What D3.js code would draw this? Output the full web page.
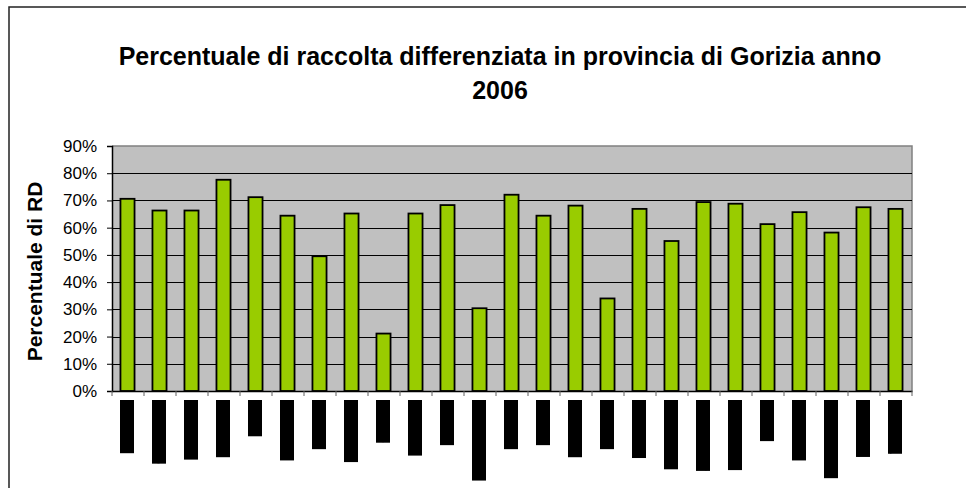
<!DOCTYPE html>
<html><head><meta charset="utf-8">
<script src="https://cdn.jsdelivr.net/npm/d3@7"></script>
<style>html,body{margin:0;padding:0;background:#fff;}svg{display:block;}</style>
</head><body>
<svg id="chart" width="966" height="488"></svg>
<script>
const titleLines = ["Percentuale di raccolta differenziata in provincia di Gorizia anno", "2006"];
const yAxisTitle = "Percentuale di RD";
const categories = ["Capriva","Cormons","Doberdò","Dolegna","Farra","Fogliano","Gorizia","Gradisca","Grado","Mariano","Medea","Monfalcone","Moraro","Mossa","Romans","Ronchi","Sagrado","S.Canzian","S.Floriano","S.Lorenzo","S.Pier","Savogna","Staranzano","Turriaco","Villesse"];
const values = [70.6,66.3,66.3,77.6,71.2,64.4,49.5,65.2,21.1,65.2,68.3,30.4,72.1,64.4,68.1,34.0,66.9,55.1,69.4,68.8,61.3,65.7,58.2,67.5,66.9];
const yTicks = [0,10,20,30,40,50,60,70,80,90];

const svg = d3.select("#chart");
const font = "'Liberation Sans', Arial, sans-serif";
const m = {left:112, right:912, top:146, bottom:391};

// clip for the label blocks
svg.append("defs").append("clipPath").attr("id","labclip")
  .append("rect").attr("x",-200).attr("y",-7).attr("width",200).attr("height",14);

// outer chart border
svg.append("rect").attr("x",9).attr("y",7).attr("width",970).attr("height",500)
  .attr("fill","none").attr("stroke","#222").attr("stroke-width",1.5);

// title
svg.append("text").attr("x",500).attr("y",65).attr("text-anchor","middle")
  .attr("font-family",font).attr("font-weight","bold").attr("font-size",25).attr("fill","#000")
  .text(titleLines[0]);
svg.append("text").attr("x",500).attr("y",99).attr("text-anchor","middle")
  .attr("font-family",font).attr("font-weight","bold").attr("font-size",25).attr("fill","#000")
  .text(titleLines[1]);

const x = d3.scaleBand().domain(categories).range([m.left,m.right]).paddingInner(0).paddingOuter(0);
const y = d3.scaleLinear().domain([0,90]).range([m.bottom,m.top]);

// plot area
svg.append("rect").attr("x",m.left).attr("y",m.top).attr("width",m.right-m.left).attr("height",m.bottom-m.top)
  .attr("fill","#c0c0c0");
svg.append("path").attr("d",`M${m.left},${m.top}H${m.right}V${m.bottom}`)
  .attr("fill","none").attr("stroke","#808080").attr("stroke-width",1.5);

// gridlines
svg.append("g").selectAll("line").data(yTicks.filter(t=>t>0 && t<90)).join("line")
  .attr("x1",m.left).attr("x2",m.right).attr("y1",d=>Math.round(y(d))+0.5).attr("y2",d=>Math.round(y(d))+0.5)
  .attr("stroke","#000").attr("stroke-width",1);

// bars
const bw = x.bandwidth()*0.44;
svg.append("g").selectAll("rect").data(values).join("rect")
  .attr("x",(d,i)=>x(categories[i])+x.bandwidth()/2-bw/2-0.5)
  .attr("y",d=>y(d)).attr("width",bw).attr("height",d=>m.bottom-y(d))
  .attr("fill","#99cc00").attr("stroke","#000").attr("stroke-width",1.8);

// y axis
const yAxis = svg.append("g").attr("transform",`translate(${m.left},0)`)
  .call(d3.axisLeft(y).tickValues(yTicks).tickFormat(d=>d+"%").tickSize(5).tickPadding(10));
yAxis.select(".domain").attr("stroke","#000").attr("stroke-width",1.5);
yAxis.selectAll(".tick line").attr("stroke","#000");
yAxis.selectAll("text").attr("font-family",font).attr("font-size",17).attr("fill","#000");

// x axis
const xAxis = svg.append("g").attr("transform",`translate(0,${m.bottom})`)
  .call(d3.axisBottom(x).tickSize(0).tickFormat(""));
xAxis.select(".domain").attr("stroke","#000").attr("stroke-width",1.5);
xAxis.selectAll(".tick").remove();
const bounds = categories.map(c=>x(c)).concat([m.right]);
xAxis.selectAll("line.xt").data(bounds).join("line").attr("class","xt")
  .attr("x1",d=>d).attr("x2",d=>d).attr("y1",0).attr("y2",5)
  .attr("stroke","#606060").attr("stroke-width",1);

// category labels (rendered as solid black rotated blocks, as in the reference)
const lab = svg.append("g").selectAll("g").data(categories).join("g")
  .attr("transform",d=>`translate(${x(d)+x.bandwidth()/2-1},400) rotate(-90)`);
const inner = lab.append("g").attr("clip-path","url(#labclip)");
inner.append("text").attr("text-anchor","end").attr("dy","0.35em")
  .attr("font-family",font).attr("font-weight","bold").attr("font-size",14.5).attr("fill","#000")
  .text(d=>d);
inner.each(function(){
  const g = d3.select(this);
  const w = g.select("text").node().getComputedTextLength();
  g.insert("rect","text").attr("x",-w).attr("y",-7).attr("width",w).attr("height",14).attr("fill","#000");
});

// y axis title
svg.append("text").attr("transform",`translate(42,${(m.top+m.bottom)/2+3}) rotate(-90)`)
  .attr("text-anchor","middle").attr("font-family",font).attr("font-weight","bold").attr("font-size",21).attr("fill","#000")
  .text(yAxisTitle);
</script>
</body></html>
